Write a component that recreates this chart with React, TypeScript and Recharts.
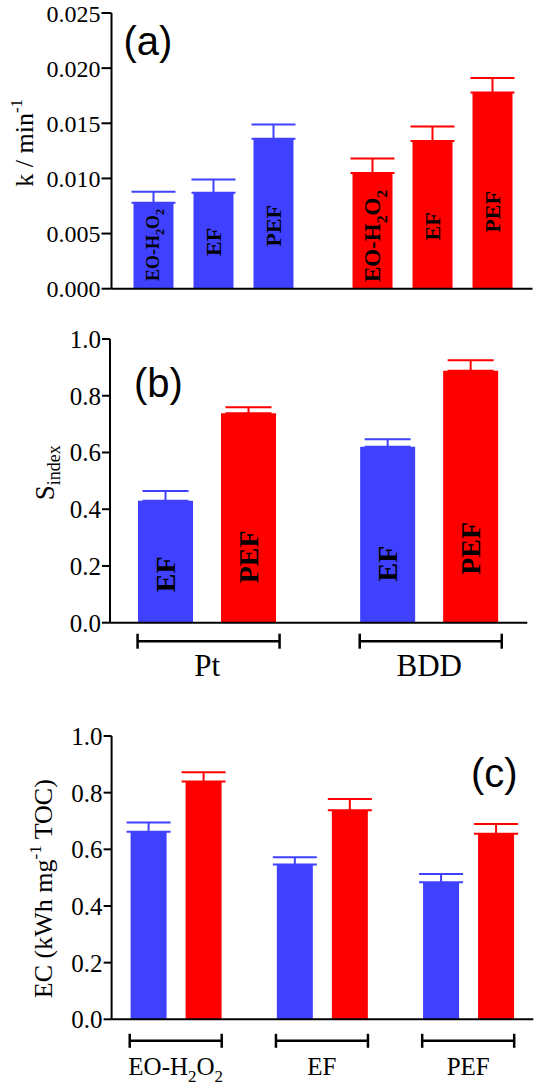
import React from 'react';
import { BarChart, Bar, XAxis, YAxis, ErrorBar, Cell, LabelList } from 'recharts';

const BLUE = '#4040ff';
const RED = '#ff0000';
const SERIF = '"Liberation Serif", "Times New Roman", serif';
const SANS = '"Liberation Sans", Arial, sans-serif';

// groups / processes
const electrodes = ['Pt', 'BDD'];
const processes = ['EO-H2O2', 'EF', 'PEF'];

// (a) rate constants k (min^-1)
const kPt = [0.0078, 0.0087, 0.0136];
const kPtErr = [0.001, 0.0012, 0.0013];
const kBdd = [0.0105, 0.0134, 0.0178];
const kBddErr = [0.0013, 0.0013, 0.0013];
const kTicks = [0, 0.005, 0.01, 0.015, 0.02, 0.025];

// (b) synergy index
const sEF = [0.43, 0.62];
const sEFErr = [0.034, 0.027];
const sPEF = [0.738, 0.888];
const sPEFErr = [0.021, 0.037];

// (c) energy consumption (kWh mg-1 TOC)
const ecPt = [0.662, 0.546, 0.484];
const ecPtErr = [0.033, 0.026, 0.029];
const ecBdd = [0.839, 0.738, 0.655];
const ecBddErr = [0.033, 0.04, 0.034];

const unitTicks = [0, 0.2, 0.4, 0.6, 0.8, 1.0];

// --- tables for recharts ---
const kVals = [kPt, kBdd];
const kErrs = [kPtErr, kBddErr];
const rowsA = electrodes.map((name, g) => {
  const row: Record<string, any> = { name };
  processes.forEach((_, p) => {
    row[`v${p}`] = kVals[g][p];
    row[`e${p}`] = kErrs[g][p];
  });
  return row;
});
const rowsB = electrodes.map((name, g) => ({
  name, ef: sEF[g], efErr: sEFErr[g], pef: sPEF[g], pefErr: sPEFErr[g]
}));
const rowsC = processes.map((name, p) => ({
  name, pt: ecPt[p], ptErr: ecPtErr[p], bdd: ecBdd[p], bddErr: ecBddErr[p]
}));

// only the upper half of each error bar is shown
const upper = (key: string) => (d: any) => [0, d[key]];

// digits in formulas -> subscripts
function chem(label: string, size: number) {
  const shift = size * 0.28;
  let down = false;
  return label.split(/(\d)/).filter(Boolean).map((part, i) => {
    if (/^\d$/.test(part)) {
      const el = <tspan key={i} fontSize={size * 0.68} dy={down ? 0 : shift}>{part}</tspan>;
      down = true;
      return el;
    }
    const el = <tspan key={i} dy={down ? -shift : 0}>{part}</tspan>;
    down = false;
    return el;
  });
}

const VText = ({ x, y, size, weight = 'normal', children }: any) => (
  <text x={x} y={y} transform={`rotate(-90 ${x} ${y})`} textAnchor="middle"
    fontFamily={SERIF} fontSize={size} fontWeight={weight} fill="#000">
    {children}
  </text>
);

const Bracket = ({ cx, y, half, cap }: any) => (
  <g stroke="#000" strokeWidth={2.5}>
    <line x1={cx - half} x2={cx + half} y1={y} y2={y} />
    <line x1={cx - half} x2={cx - half} y1={y - cap} y2={y + cap} />
    <line x1={cx + half} x2={cx + half} y1={y - cap} y2={y + cap} />
  </g>
);

// y axis titles
const TitleA = ({ viewBox }: any) => {
  const cy = viewBox.y + viewBox.height / 2 - 8;
  return (
    <VText x={33} y={cy} size={26}>
      k / min<tspan fontSize={17} dy={-11}>-1</tspan>
    </VText>
  );
};
const TitleB = ({ viewBox }: any) => {
  const cy = viewBox.y + viewBox.height / 2 - 8;
  return (
    <VText x={54} y={cy} size={27}>
      S<tspan fontSize={18} dy={6}>index</tspan>
    </VText>
  );
};
const TitleC = ({ viewBox }: any) => {
  const cy = viewBox.y + viewBox.height / 2 + 11;
  return (
    <VText x={52} y={cy} size={26}>
      EC (kWh mg<tspan fontSize={17} dy={-11}>-1</tspan><tspan dy={11}> TOC)</tspan>
    </VText>
  );
};

// labels written inside the bars
const barLabelA = (p: number) => (props: any) => {
  const x = Number(props.x), y = Number(props.y), w = Number(props.width), h = Number(props.height);
  const size = p === 0 ? (props.index === 0 ? 18 : 23) : 22;
  const cx = x + w / 2 + size * 0.33;
  const cy = y + h - (0.3 * h + 18);
  return <VText x={cx} y={cy} size={size} weight="bold">{chem(processes[p], size)}</VText>;
};
const barLabelB = (text: string) => (props: any) => {
  const x = Number(props.x), y = Number(props.y), w = Number(props.width), h = Number(props.height);
  const size = 28;
  const cx = x + w / 2 + size * 0.33;
  const cy = y + h - (0.2 * h + 24);
  return <VText x={cx} y={cy} size={size} weight="bold">{text}</VText>;
};

// group marks
const TopMarkA = (props: any) => {
  const { x, y, payload } = props;
  const isPt = payload.value === 'Pt';
  return (
    <g>
      <Bracket cx={x + (isPt ? -3 : 3)} y={y + (isPt ? 76 : 12.5)} half={isPt ? 70 : 72} cap={7} />
      <text x={x} y={y + (isPt ? 57 : 46.5)} textAnchor="middle" fontFamily={SERIF} fontSize={31} fill="#000">
        {payload.value}
      </text>
    </g>
  );
};
const BottomMarkB = (props: any) => {
  const { x, y, payload } = props;
  return (
    <g>
      <Bracket cx={x + 1.5} y={y + 18.5} half={71} cap={7.5} />
      <text x={x} y={y + 53} textAnchor="middle" fontFamily={SERIF} fontSize={31} fill="#000">
        {payload.value}
      </text>
    </g>
  );
};
const BottomMarkC = (props: any) => {
  const { x, y, payload } = props;
  return (
    <g>
      <Bracket cx={x} y={y + 21.5} half={46} cap={7} />
      <text x={x} y={y + 56} textAnchor="middle" fontFamily={SERIF} fontSize={25} fill="#000">
        {chem(payload.value, 25)}
      </text>
    </g>
  );
};

const axisLine = { stroke: '#000', strokeWidth: 2 };
const tickFont = { fontFamily: SERIF, fontSize: 25, fill: '#000' };

const PanelLetter = ({ x, y, t }: any) => (
  <text x={x} y={y} fontFamily={SANS} fontSize={40} fill="#000">{t}</text>
);

export default function App() {
  const padA = { left: -8, right: -9 };
  const padB = { left: -14, right: -13 };
  const padC = { left: -9, right: -8 };

  return (
    <div style={{ position: 'absolute', left: 0, top: 0, width: 550, height: 1088, background: '#fff' }}>
      {/* (a) */}
      <div style={{ position: 'absolute', left: 0, top: 0 }}>
        <BarChart width={550} height={312} data={rowsA} barGap={20}
          margin={{ top: 13, right: 17.5, left: 0, bottom: 0 }}>
          <XAxis dataKey="name" height={23.3} tick={false} tickLine={false} axisLine={axisLine} padding={padA} />
          <XAxis xAxisId="t" orientation="top" dataKey="name" height={0} tickSize={0} tickMargin={0}
            tickLine={false} axisLine={axisLine} padding={padA} tick={TopMarkA} interval={0} />
          <YAxis type="number" domain={[0, 0.025]} ticks={kTicks} interval={0} width={111.5}
            tickFormatter={(v: number) => v.toFixed(3)} tick={{ ...tickFont, fontSize: 24 }} tickSize={10} tickMargin={1}
            axisLine={axisLine} tickLine={axisLine} label={<TitleA />} />
          <YAxis yAxisId="r" orientation="right" width={0} domain={[0, 1]} tick={false} tickLine={false} axisLine={axisLine} />
          {processes.map((proc, p) => (
            <Bar key={proc} dataKey={`v${p}`} barSize={40} isAnimationActive={false}>
              {rowsA.map((r, g) => <Cell key={r.name} fill={g === 0 ? BLUE : RED} />)}
              <ErrorBar dataKey={(d: any) => (d.name === 'Pt' ? [0, d[`e${p}`]] : null)} width={22}
                stroke={BLUE} strokeWidth={2} isAnimationActive={false} />
              <ErrorBar dataKey={(d: any) => (d.name === 'BDD' ? [0, d[`e${p}`]] : null)} width={22}
                stroke={RED} strokeWidth={2} isAnimationActive={false} />
              <LabelList content={barLabelA(p)} />
            </Bar>
          ))}
          <PanelLetter x={123.5} y={55} t="(a)" />
        </BarChart>
      </div>

      {/* (b) */}
      <div style={{ position: 'absolute', left: 0, top: 320 }}>
        <BarChart width={550} height={380} data={rowsB} barGap={28}
          margin={{ top: 19, right: 22.7, left: 0, bottom: 0 }}>
          <XAxis dataKey="name" height={77.3} tickSize={0} tickMargin={0} tickLine={false}
            axisLine={axisLine} padding={padB} tick={BottomMarkB} interval={0} />
          <XAxis xAxisId="t" orientation="top" dataKey="name" height={0} tick={false} tickLine={false}
            axisLine={axisLine} padding={padB} />
          <YAxis type="number" domain={[0, 1]} ticks={unitTicks} interval={0} width={110}
            tickFormatter={(v: number) => v.toFixed(1)} tick={tickFont} tickSize={8} tickMargin={1}
            axisLine={axisLine} tickLine={axisLine} label={<TitleB />} />
          <YAxis yAxisId="r" orientation="right" width={0} domain={[0, 1]} tick={false} tickLine={false} axisLine={axisLine} />
          <Bar dataKey="ef" fill={BLUE} barSize={55} isAnimationActive={false}>
            <ErrorBar dataKey={upper('efErr')} width={23} stroke={BLUE} strokeWidth={2} isAnimationActive={false} />
            <LabelList content={barLabelB('EF')} />
          </Bar>
          <Bar dataKey="pef" fill={RED} barSize={55} isAnimationActive={false}>
            <ErrorBar dataKey={upper('pefErr')} width={23} stroke={RED} strokeWidth={2} isAnimationActive={false} />
            <LabelList content={barLabelB('PEF')} />
          </Bar>
          <PanelLetter x={134} y={76.6} t="(b)" />
        </BarChart>
      </div>

      {/* (c) */}
      <div style={{ position: 'absolute', left: 0, top: 720 }}>
        <BarChart width={550} height={368} data={rowsC} barGap={19}
          margin={{ top: 16, right: 16.7, left: 0, bottom: 0 }}>
          <XAxis dataKey="name" height={68.7} tickSize={0} tickMargin={0} tickLine={false}
            axisLine={axisLine} padding={padC} tick={BottomMarkC} interval={0} />
          <XAxis xAxisId="t" orientation="top" dataKey="name" height={0} tick={false} tickLine={false}
            axisLine={axisLine} padding={padC} />
          <YAxis type="number" domain={[0, 1]} ticks={unitTicks} interval={0} width={111.6}
            tickFormatter={(v: number) => v.toFixed(1)} tick={tickFont} tickSize={8} tickMargin={1}
            axisLine={axisLine} tickLine={axisLine} label={<TitleC />} />
          <YAxis yAxisId="r" orientation="right" width={0} domain={[0, 1]} tick={false} tickLine={false} axisLine={axisLine} />
          <Bar dataKey="pt" fill={BLUE} barSize={36} isAnimationActive={false}>
            <ErrorBar dataKey={upper('ptErr')} width={22} stroke={BLUE} strokeWidth={2} isAnimationActive={false} />
          </Bar>
          <Bar dataKey="bdd" fill={RED} barSize={36} isAnimationActive={false}>
            <ErrorBar dataKey={upper('bddErr')} width={22} stroke={RED} strokeWidth={2} isAnimationActive={false} />
          </Bar>
          <PanelLetter x={471} y={66.6} t="(c)" />
        </BarChart>
      </div>
    </div>
  );
}
